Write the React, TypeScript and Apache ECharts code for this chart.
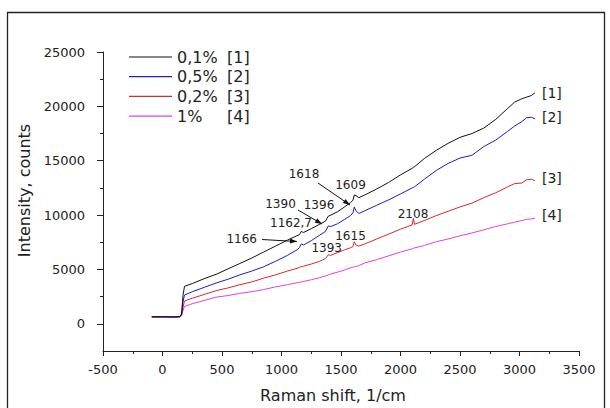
import React, { useEffect, useRef } from "react";
import * as echarts from "echarts";

// Raman shift (1/cm)
const shifts = [-90, 0, 100, 145, 160, 172, 185, 250, 350, 450, 550, 650, 750, 850, 950, 1050, 1130, 1150, 1166, 1185, 1250, 1320, 1370, 1393, 1415, 1470, 1530, 1580, 1600, 1612, 1625, 1650, 1700, 1800, 1900, 2000, 2098, 2108, 2118, 2200, 2300, 2400, 2500, 2600, 2700, 2800, 2900, 2960, 3020, 3060, 3100, 3130];

// Intensity, counts
const s1 = [650, 650, 640, 660, 900, 2600, 3450, 3700, 4150, 4550, 5050, 5550, 6050, 6600, 7150, 7700, 8100, 8200, 8500, 8400, 8750, 9150, 9450, 9900, 10000, 10300, 10750, 11150, 11350, 11850, 11800, 11600, 11850, 12400, 13000, 13700, 14300, 14400, 14450, 15200, 15950, 16600, 17150, 17500, 18000, 18800, 19800, 20400, 20700, 20850, 21000, 21250];
const s2 = [640, 640, 630, 650, 850, 2000, 2650, 2950, 3350, 3750, 4100, 4500, 4850, 5250, 5750, 6300, 6800, 7000, 7350, 7250, 7650, 8150, 8500, 9000, 8950, 9200, 9600, 9950, 10200, 10750, 10400, 10150, 10400, 10900, 11400, 11950, 12500, 12550, 12600, 13300, 14100, 14750, 15250, 15500, 16300, 16900, 17700, 18200, 18600, 18950, 19000, 18850];
const s3 = [640, 640, 630, 650, 800, 1500, 2100, 2350, 2700, 3050, 3300, 3600, 3850, 4200, 4500, 4850, 5100, 5200, 5250, 5300, 5500, 5750, 6000, 6350, 6300, 6550, 6800, 7000, 7100, 7550, 7250, 7150, 7350, 7800, 8250, 8700, 9100, 9700, 9150, 9500, 9950, 10350, 10750, 11100, 11600, 12050, 12600, 12900, 12950, 13250, 13300, 13150];
const s4 = [620, 620, 610, 630, 750, 1200, 1600, 1850, 2150, 2450, 2600, 2800, 2950, 3150, 3400, 3600, 3780, 3820, 3850, 3900, 4050, 4250, 4400, 4500, 4580, 4750, 4950, 5150, 5200, 5250, 5280, 5350, 5600, 5900, 6250, 6600, 6900, 6950, 6980, 7200, 7550, 7800, 8100, 8350, 8650, 8950, 9200, 9350, 9500, 9600, 9650, 9700];

const concentrations = ["0,1%", "0,5%", "0,2%", "1%"];
const tags = ["[1]", "[2]", "[3]", "[4]"];
const colors = ["#111111", "#1c1cc8", "#d42a2a", "#e040e0"];
const seriesValues = [s1, s2, s3, s4];

const yMajorTicks = [0, 5000, 10000, 15000, 20000, 25000];
const yMinorTicks = [2500, 7500, 12500, 17500, 22500];

// annotation labels for the peaks
const peakLabels = ["1618", "1609", "1390", "1396", "1162,7", "1166", "1393", "1615", "2108"];

const FONT = "DejaVu Sans";
const TXT = "#222";

function arrowHead(x1: number, y1: number, x2: number, y2: number) {
  const dx = x2 - x1, dy = y2 - y1;
  const L = Math.hypot(dx, dy);
  const ux = dx / L, uy = dy / L;
  const len = 7, w = 2.5;
  const bx = x2 - ux * len, by = y2 - uy * len;
  return [[x2, y2], [bx - uy * w, by + ux * w], [bx + uy * w, by - ux * w]];
}

const plain = (v: number) => String(v);

export default function App() {
  const ref = useRef<HTMLDivElement>(null);
  useEffect(() => {
    const chart = echarts.init(ref.current!, null, { renderer: "svg" });

    const labelPos: [number, number][] = [
      [304, 173.5], [350.5, 185], [280.5, 203.5], [319, 205], [291, 222.7], [241.7, 239.3], [326.7, 248.3], [350.5, 236], [413, 214],
    ];
    const arrows: [number, number, number, number][] = [
      [318, 183, 350, 205],
      [298, 210, 322, 224],
      [262, 239.5, 297, 241.5],
    ];

    const graphics: any[] = [
      {
        type: "rect",
        shape: { x: 7.5, y: 12.5, width: 597, height: 420 },
        style: { fill: "none", stroke: "#222", lineWidth: 1.3 },
        silent: true,
      },
    ];
    peakLabels.forEach((t, i) => {
      graphics.push({
        type: "text",
        x: labelPos[i][0],
        y: labelPos[i][1],
        style: { text: t, fontSize: 12, fontFamily: FONT, fill: TXT, align: "center", verticalAlign: "middle" },
        z: 10,
      });
    });
    arrows.forEach(([x1, y1, x2, y2]) => {
      graphics.push({
        type: "line",
        shape: { x1, y1, x2, y2 },
        style: { stroke: "#111", lineWidth: 1 },
        z: 10,
      });
      graphics.push({
        type: "polygon",
        shape: { points: arrowHead(x1, y1, x2, y2) },
        style: { fill: "#111" },
        z: 10,
      });
    });

    const endOffsets = [[0, 0], [0, -2], [0, -3], [0, -3]];
    const names = concentrations.map((c, i) => c + " " + tags[i]);

    const option: any = {
      animation: false,
      backgroundColor: "#fff",
      textStyle: { fontFamily: FONT },
      grid: { left: 103, right: 31, top: 52, bottom: 56, containLabel: false },
      legend: {
        orient: "vertical",
        left: 129,
        top: 49,
        padding: 0,
        icon: "rect",
        itemWidth: 43,
        itemHeight: 1.2,
        itemGap: 3.7,
        selectedMode: false,
        data: names,
        formatter: (name: string) => {
          const i = names.indexOf(name);
          return "{a|" + concentrations[i] + "}{b|" + tags[i] + "}";
        },
        textStyle: {
          fontSize: 16,
          fontFamily: FONT,
          color: TXT,
          lineHeight: 16,
          rich: {
            a: { width: 50, fontSize: 16, fontFamily: FONT, color: TXT, lineHeight: 16 },
            b: { fontSize: 16, fontFamily: FONT, color: TXT, lineHeight: 16 },
          },
        },
      },
      xAxis: [
        {
          type: "value",
          min: -500,
          max: 3500,
          interval: 500,
          name: "Raman shift, 1/cm",
          nameLocation: "middle",
          nameGap: 36,
          nameTextStyle: { fontSize: 16, fontFamily: FONT, color: TXT, padding: [0, 16, 0, 0] },
          axisLine: { show: true, onZero: false, lineStyle: { color: "#222", width: 1 } },
          axisTick: { show: true, length: 5, lineStyle: { color: "#222" } },
          minorTick: { show: true, splitNumber: 2, length: 3, lineStyle: { color: "#222" } },
          splitLine: { show: false },
          axisLabel: { fontSize: 13, fontFamily: FONT, color: TXT, margin: 12, formatter: plain },
        },
      ],
      yAxis: [
        {
          type: "value",
          min: -2500,
          max: 25000,
          interval: 2500,
          position: "left",
          name: "Intensity, counts",
          nameLocation: "middle",
          nameGap: 69,
          nameTextStyle: { fontSize: 16, fontFamily: FONT, color: TXT, padding: [0, 0, 0, 22] },
          axisLine: { show: true, onZero: false, lineStyle: { color: "#222", width: 1 } },
          axisTick: { show: true, length: 6, customValues: yMajorTicks, lineStyle: { color: "#222" } },
          splitLine: { show: false },
          axisLabel: { fontSize: 13, fontFamily: FONT, color: TXT, margin: 18, customValues: yMajorTicks, formatter: plain },
        },
        {
          type: "value",
          min: -2500,
          max: 25000,
          interval: 2500,
          position: "left",
          offset: 0,
          axisLine: { show: false, onZero: false },
          axisTick: { show: true, length: 3, customValues: yMinorTicks, lineStyle: { color: "#222" } },
          splitLine: { show: false },
          axisLabel: { show: false },
        },
      ],
      series: seriesValues.map((vals, i) => ({
        name: names[i],
        type: "line",
        xAxisIndex: 0,
        yAxisIndex: 0,
        symbol: "none",
        showSymbol: false,
        color: colors[i],
        itemStyle: { color: colors[i] },
        lineStyle: { color: colors[i], width: 1 },
        data: shifts.map((x, k) => [x, vals[k]]),
        endLabel: {
          show: true,
          formatter: tags[i],
          distance: 7,
          offset: endOffsets[i],
          fontSize: 14,
          fontFamily: FONT,
          color: TXT,
        },
        z: 6 - i,
      })),
      graphic: graphics,
    };

    chart.setOption(option);
    return () => chart.dispose();
  }, []);
  return <div ref={ref} style={{ position: "absolute", left: 0, top: 0, width: 610, height: 408 }} />;
}
